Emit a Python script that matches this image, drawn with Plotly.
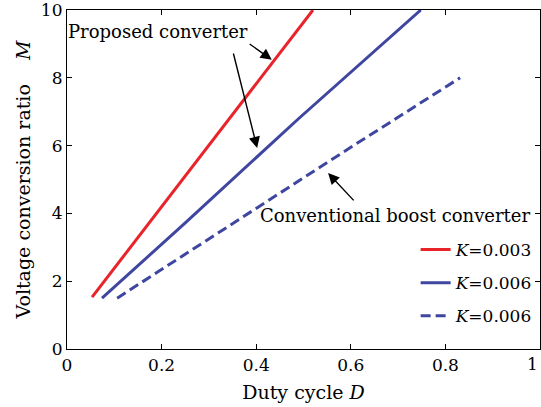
import plotly.graph_objects as go

# Duty cycle D and voltage conversion ratio M for each curve
d_prop_k003 = [0.053, 0.20, 0.35, 0.52]
m_prop_k003 = [1.53, 4.20, 6.92, 10.0]

d_prop_k006 = [0.074, 0.25, 0.49, 0.748]
m_prop_k006 = [1.50, 3.72, 6.80, 10.0]

d_boost_k006 = [0.106, 0.387, 0.60, 0.831]
m_boost_k006 = [1.50, 4.03, 5.95, 8.00]

legend_names = ["<i>K</i>=0.003", "<i>K</i>=0.006", "<i>K</i>=0.006"]

x_ticks = [0, 0.2, 0.4, 0.6, 0.8, 1]
x_tick_text = ["0", "0.2", "0.4", "0.6", "0.8", ""]
x_last_label = "1"
y_ticks = [0, 2, 4, 6, 8, 10]

RED = "#e8232a"
BLUE = "#3f46a0"
FONT = "DejaVu Serif"

fig = go.Figure()
fig.add_trace(go.Scatter(x=d_prop_k003, y=m_prop_k003, mode="lines",
                         line=dict(color=RED, width=3), name=legend_names[0],
                         legendgroup="a"))
fig.add_trace(go.Scatter(x=d_prop_k006, y=m_prop_k006, mode="lines",
                         line=dict(color=BLUE, width=3), name=legend_names[1],
                         legendgroup="b"))
fig.add_trace(go.Scatter(x=d_boost_k006, y=m_boost_k006, mode="lines",
                         line=dict(color=BLUE, width=3, dash="10px,5px"),
                         name=legend_names[2], legendgroup="c"))

axis_common = dict(showline=True, linecolor="black", linewidth=1.2, mirror="ticks",
                   ticks="inside", ticklen=5, tickcolor="black", showgrid=False,
                   zeroline=False, automargin=False, ticklabeloverflow="allow",
                   tickfont=dict(family=FONT, size=17, color="black"))

fig.update_xaxes(range=[0, 1], tickvals=x_ticks, ticktext=x_tick_text,
                 title=dict(text="Duty cycle <i>D</i>", standoff=12,
                            font=dict(family=FONT, size=19, color="black")),
                 **axis_common)
fig.update_yaxes(range=[0, 10], tickvals=y_ticks,
                 title=dict(text="Voltage conversion ratio    <i>M</i>", standoff=5,
                            font=dict(family=FONT, size=19, color="black")),
                 **axis_common)

# last x tick label kept inside the page edge
fig.add_annotation(x=1, xref="paper", y=0, yref="paper", yanchor="top", xanchor="right",
                   yshift=-3, text=x_last_label, showarrow=False,
                   font=dict(family=FONT, size=17, color="black"))

annot_font = dict(family=FONT, size=18, color="black")
fig.add_annotation(x=0.192, y=9.38, text="Proposed converter", showarrow=False,
                   font=annot_font)
fig.add_annotation(x=0.693, y=3.95, text="Conventional boost converter", showarrow=False,
                   font=annot_font)

arrows = [
    ((0.383, 9.03), (0.433, 8.53)),
    ((0.351, 8.76), (0.402, 5.93)),
    ((0.609, 4.34), (0.552, 5.19)),
]
for (tx, ty), (hx, hy) in arrows:
    fig.add_annotation(x=hx, y=hy, ax=tx, ay=ty, xref="x", yref="y", axref="x", ayref="y",
                       text="", showarrow=True, arrowhead=2, arrowsize=1.6,
                       arrowwidth=1.4, arrowcolor="black")

fig.update_layout(
    width=541, height=407,
    margin=dict(l=67, r=1, t=10, b=58),
    paper_bgcolor="white", plot_bgcolor="white",
    showlegend=True,
    legend=dict(x=0.995, y=0.345, xanchor="right", yanchor="top",
                bgcolor="rgba(0,0,0,0)", borderwidth=0, tracegroupgap=8,
                font=dict(family=FONT, size=17, color="black")),
)

fig.write_html("out.html")
